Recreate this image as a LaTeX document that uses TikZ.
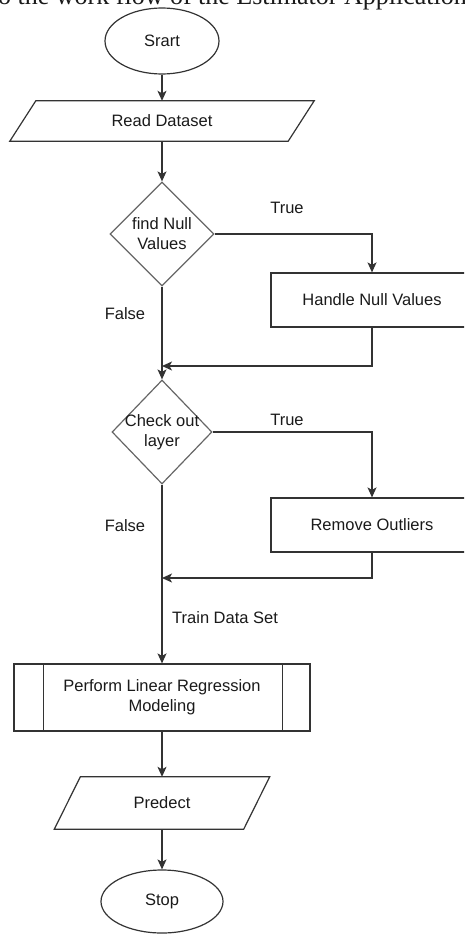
\documentclass[tikz,border=0pt]{standalone}
\usepackage{fontspec}
\setmainfont{Liberation Sans}
\newfontfamily\captionserif{Liberation Serif}
\usetikzlibrary{arrows.meta,shapes.geometric,positioning,calc}
\definecolor{flowline}{HTML}{333333}
\definecolor{flowtext}{HTML}{1A1A1A}

\tikzset{
  every node/.style={font=\fontsize{16.5}{20}\selectfont, text=flowtext},
  terminal/.style={ellipse, draw=flowline, line width=1.2pt, minimum width=114pt, minimum height=66pt, inner sep=0pt},
  iobox/.style={rectangle, inner sep=0pt},
  procbox/.style={rectangle, draw=flowline, line width=1.2pt, minimum width=202pt, minimum height=54pt, inner sep=0pt},
  subproc/.style={rectangle, draw=flowline, line width=1.2pt, align=center, minimum width=296pt, minimum height=67pt, inner sep=0pt},
  decision/.style={diamond, draw=flowline!75, line width=1.2pt, inner sep=0pt, minimum width=104pt, minimum height=104pt},
  flow/.style={draw=flowline, line width=1.2pt, -{Stealth[length=10pt,width=9pt,inset=2.5pt]}},
  outline/.style={draw=flowline, line width=1.2pt},
}

\begin{document}
\begin{tikzpicture}[x=1pt,y=-1pt]
  \useasboundingbox (0,0) rectangle (464,934);
  \clip (0,0) rectangle (464,934);

  % caption line cut by the top edge
  \node[font=\captionserif\fontsize{26}{30}\selectfont, anchor=base west, inner sep=0pt] (caption) at (-2,5) {o the work flow of the Estimator Application};

  % main column
  \node[terminal] (start) at (162,41) {Srart};
  \node[iobox, minimum width=304pt, minimum height=40pt] (read) at (162,121) {Read Dataset};
  \draw[outline] ($(read.north west)+(26,0)$) -- (read.north east) -- ($(read.south east)-(26,0)$) -- (read.south west) -- cycle;
  \node[decision, label={[align=center]center:find Null\\Values}] (nullchk) at (162,234) {};
  \node[decision, minimum width=100pt, label={[align=center]center:Check out\\layer}] (outchk) at (162,432) {};
  \node[subproc] (model) at (162,697.5) {Perform Linear Regression\\Modeling};
  \draw[outline] ($(model.north west)+(30,0)$) -- ($(model.south west)+(30,0)$);
  \draw[outline] ($(model.north east)-(28,0)$) -- ($(model.south east)-(28,0)$);
  \node[iobox, minimum width=215pt, minimum height=52pt] (predict) at (162,803) {Predect};
  \draw[outline] ($(predict.north west)+(26,0)$) -- (predict.north east) -- ($(predict.south east)-(26,0)$) -- (predict.south west) -- cycle;
  \node[terminal, minimum width=122pt, minimum height=63pt] (stop) at (162,901.5) {Stop};

  % side branches
  \node[procbox] (handle) at (372,300) {Handle Null Values};
  \node[procbox] (remove) at (372,525) {Remove Outliers};
  \coordinate (join1) at (162,366);
  \coordinate (join2) at (162,578);

  % connectors
  \draw[flow] (start) -- (read);
  \draw[flow] (read) -- (nullchk);
  \draw[flow] (nullchk.east) -| (handle.north);
  \draw[flow] (handle.south) |- (join1);
  \draw[flow] (nullchk.south) -- (outchk.north);
  \draw[flow] (outchk.east) -| (remove.north);
  \draw[flow] (remove.south) |- (join2);
  \draw[flow] (outchk.south) -- (model.north);
  \draw[flow] (model) -- (predict);
  \draw[flow] (predict) -- (stop);

  % branch labels
  \node (true1) at (287,208) {True};
  \node (false1) at (125,314) {False};
  \node (true2) at (287,420) {True};
  \node (false2) at (125,526) {False};
  \node[anchor=west, inner sep=0pt] (train) at (172,618) {Train Data Set};
\end{tikzpicture}
\end{document}
